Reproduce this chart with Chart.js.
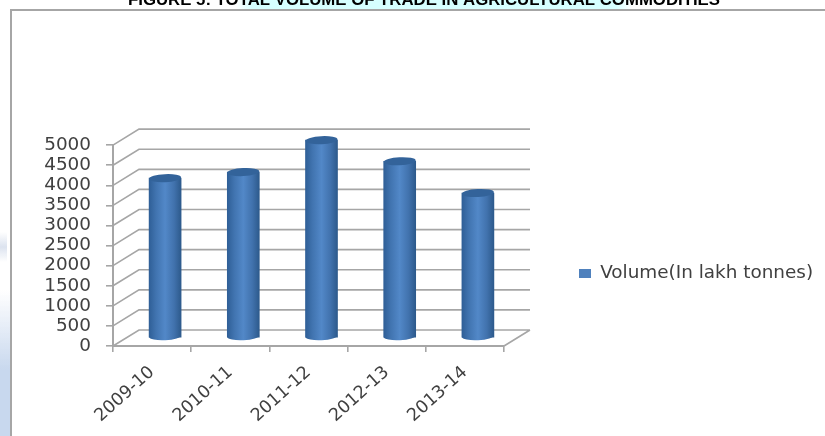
<!DOCTYPE html>
<html>
<head>
<meta charset="utf-8">
<title>Total volume of trade in agricultural commodities</title>
<style>
  html, body { margin: 0; padding: 0; background: #fff; }
  canvas { display: block; }
</style>
<script src="https://cdn.jsdelivr.net/npm/chart.js@4"></script>
</head>
<body>
<canvas id="chart" width="825" height="436"></canvas>
<script>
const categories = ['2009-10', '2010-11', '2011-12', '2012-13', '2013-14'];
const volume = [3980, 4130, 4925, 4400, 3610];
const seriesName = 'Volume(In lakh tonnes)';
const chartTitle = 'FIGURE 5: TOTAL VOLUME OF TRADE IN AGRICULTURAL COMMODITIES';

const GRID = '#a6a6a6';
const TEXT = '#404040';
const SWATCH = '#4f81bd';
const FONT = '"DejaVu Sans", sans-serif';

// Offsets of the 3D box: bars stand mid-way between the front axes and the back wall.
const BAR_DEPTH = { x: 13, y: -8 };
const WALL_DEPTH = { x: 26, y: -16 };

function cylinderFill(ctx) {
  const chart = ctx.chart;
  if (!chart.chartArea || ctx.type !== 'data') return SWATCH;
  const cx = chart.scales.x.getPixelForValue(ctx.dataIndex);
  const g = chart.ctx.createLinearGradient(cx - 16, 0, cx + 16, 0);
  g.addColorStop(0, '#2f5f97');
  g.addColorStop(0.22, '#4174b0');
  g.addColorStop(0.5, '#5288c8');
  g.addColorStop(0.78, '#4172ad');
  g.addColorStop(1, '#2d5a8c');
  return g;
}

// Page furniture behind the chart: frame, title glow and the faint watermark at the edge.
const backdrop = {
  id: 'backdrop',
  beforeDraw(chart) {
    const c = chart.ctx;
    c.save();
    const glow = c.createLinearGradient(236, 0, 632, 0);
    glow.addColorStop(0, 'rgba(214,255,255,0)');
    glow.addColorStop(0.04, '#d6ffff');
    glow.addColorStop(0.96, '#d6ffff');
    glow.addColorStop(1, 'rgba(214,255,255,0)');
    c.fillStyle = glow;
    c.fillRect(236, 0, 396, 9);

    const patch = c.createLinearGradient(0, 232, 0, 262);
    patch.addColorStop(0, 'rgba(205,215,232,0)');
    patch.addColorStop(0.5, 'rgba(205,215,232,0.7)');
    patch.addColorStop(1, 'rgba(205,215,232,0)');
    c.fillStyle = patch;
    c.fillRect(0, 232, 7, 30);

    const mark = c.createLinearGradient(0, 290, 0, 370);
    mark.addColorStop(0, 'rgba(200,216,238,0)');
    mark.addColorStop(1, '#c8d8ee');
    c.fillStyle = mark;
    c.fillRect(0, 290, 10, 146);

    c.strokeStyle = GRID;
    c.lineWidth = 2;
    c.beginPath();
    c.moveTo(11, 436);
    c.lineTo(11, 10);
    c.lineTo(825, 10);
    c.stroke();
    c.restore();
  }
};

// Back wall, side wall and floor, all placed from the value and category scales.
const box = {
  id: 'box',
  afterLayout(chart) {
    chart.titleBlock.left = 0;
    chart.titleBlock.right = 848;
    chart.titleBlock.top = -10;
    chart.legend.top -= 2;
    chart.legend.bottom -= 2;
    chart.legend.left = 569;
    chart.legend.right = 825;
  },
  beforeDatasetsDraw(chart) {
    const c = chart.ctx;
    const { x: xs, y: ys } = chart.scales;
    c.save();
    c.strokeStyle = GRID;
    c.lineWidth = 1.6;
    c.beginPath();
    ys.ticks.forEach(t => {
      const py = ys.getPixelForValue(t.value);
      c.moveTo(xs.left, py);
      c.lineTo(xs.left + WALL_DEPTH.x, py + WALL_DEPTH.y);
      c.lineTo(xs.right + WALL_DEPTH.x, py + WALL_DEPTH.y);
    });
    const floor = ys.getPixelForValue(0);
    c.moveTo(xs.right, floor);
    c.lineTo(xs.right + WALL_DEPTH.x, floor + WALL_DEPTH.y);
    c.stroke();
    c.restore();

    c.save();
    c.translate(BAR_DEPTH.x, BAR_DEPTH.y);
  },
  afterDatasetsDraw(chart) {
    const c = chart.ctx;
    const tilt = -0.05;
    chart.getDatasetMeta(0).data.forEach((bar, i) => {
      const rx = bar.width / 2;
      // rounded foot of the cylinder
      c.fillStyle = cylinderFill({ chart, type: 'data', dataIndex: i });
      c.beginPath();
      c.ellipse(bar.x, bar.base - 1, rx, 4, tilt, 0, Math.PI);
      c.fill();
      // flat top of the cylinder
      c.fillStyle = '#33639a';
      c.beginPath();
      c.ellipse(bar.x, bar.y, rx, 4, tilt, 0, Math.PI * 2);
      c.fill();
    });
    c.restore();
  }
};

new Chart(document.getElementById('chart'), {
  type: 'bar',
  data: {
    labels: categories,
    datasets: [{
      label: seriesName,
      data: volume,
      backgroundColor: cylinderFill,
      borderWidth: 0,
      barThickness: 32
    }]
  },
  plugins: [backdrop, box],
  options: {
    responsive: false,
    animation: false,
    layout: { padding: { top: 115, right: 153, bottom: 0, left: 0 } },
    plugins: {
      tooltip: { enabled: false },
      title: {
        display: true,
        text: chartTitle,
        color: '#000',
        font: { family: '"Liberation Sans", sans-serif', size: 16.8, weight: 'bold' },
        padding: { top: 0, bottom: 10 }
      },
      legend: {
        position: 'right',
        labels: {
          boxWidth: 12,
          boxHeight: 9,
          padding: 10,
          color: TEXT,
          font: { family: FONT, size: 18.4 },
          generateLabels(chart) {
            return Chart.defaults.plugins.legend.labels.generateLabels(chart)
              .map(item => ({ ...item, fillStyle: SWATCH }));
          }
        }
      }
    },
    scales: {
      x: {
        offset: true,
        afterFit(s) { s.height = 90; s.paddingLeft = 0; s.paddingRight = 0; },
        border: { color: GRID, width: 2 },
        grid: { offset: true, drawOnChartArea: false, color: GRID, lineWidth: 1.6, tickLength: 6 },
        ticks: {
          autoSkip: false,
          minRotation: 42,
          maxRotation: 42,
          padding: 10,
          color: TEXT,
          font: { family: FONT, size: 17.5 }
        }
      },
      y: {
        min: 0,
        max: 5000,
        afterFit(s) { s.width = 113; },
        border: { color: GRID, width: 2 },
        grid: { drawOnChartArea: false, color: GRID, lineWidth: 1.6, tickLength: 7 },
        ticks: {
          autoSkip: false,
          stepSize: 500,
          padding: 15,
          color: TEXT,
          font: { family: FONT, size: 18.4 },
          callback: value => String(value)
        }
      }
    }
  }
});
</script>
</body>
</html>
